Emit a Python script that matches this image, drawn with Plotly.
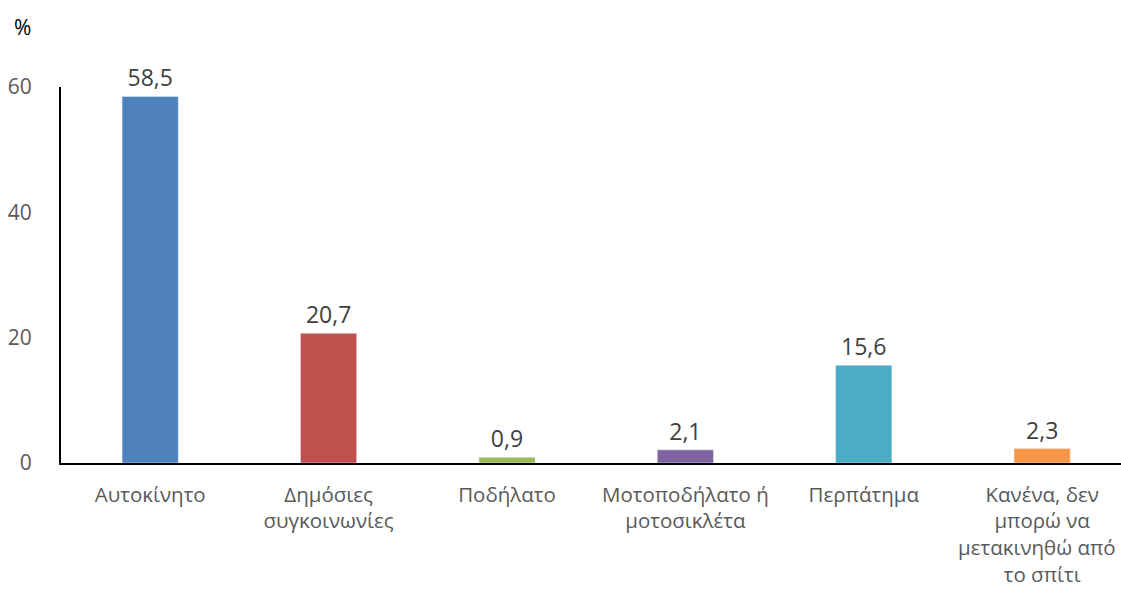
import plotly.graph_objects as go

categories = ["Αυτοκίνητο", "Δημόσιες<br>συγκοινωνίες", "Ποδήλατο",
              "Μοτοποδήλατο ή<br>μοτοσικλέτα", "Περπάτημα",
              "Κανένα, δεν<br>μπορώ να<br>μετακινηθώ από\u00a0\u00a0<br>το σπίτι"]
values = [58.5, 20.7, 0.9, 2.1, 15.6, 2.3]
colors = ["#4F81BD", "#C0504D", "#9BBB59", "#8064A2", "#4BACC6", "#F79646"]
y_ticks = [0, 20, 40, 60]

FONT = "Open Sans"
GRAY = "#595959"

fig = go.Figure(go.Bar(
    x=list(range(len(categories))), y=values, marker_color=colors,
    width=0.315, texttemplate="%{y:.1f}", textposition="outside",
    textfont=dict(family=FONT, size=23, color="#404040"), cliponaxis=False,
))

fig.update_layout(
    width=1121, height=590, separators=",.",
    margin=dict(l=61, r=0, t=87, b=127, autoexpand=False),
    paper_bgcolor="white", plot_bgcolor="white",
    font=dict(family=FONT, size=21, color=GRAY),
    showlegend=False,
    xaxis=dict(tickmode="array", tickvals=list(range(len(categories))),
               ticktext=categories, range=[-0.5, 5.442], automargin=False,
               ticklabeloverflow="allow",
               showline=True, linecolor="black", linewidth=2,
               showgrid=False, ticks="", ticklabelstandoff=12,
               tickfont=dict(family=FONT, size=20.5, color=GRAY)),
    yaxis=dict(range=[0, 60], tickvals=y_ticks, showline=True, automargin=False,
               linecolor="black", linewidth=2, showgrid=False,
               zeroline=False, ticks="", ticklabelstandoff=23,
               tickfont=dict(family=FONT, size=21, color=GRAY)),
    annotations=[dict(text="%", xref="paper", yref="paper", x=-0.046, y=1.16,
                      xanchor="left", yanchor="middle", showarrow=False,
                      font=dict(family=FONT, size=21, color="black"))],
)

fig.write_html("out.html", config={"displayModeBar": False},
               post_script="document.body.style.margin='0';"
                           "document.body.style.overflow='hidden';")
